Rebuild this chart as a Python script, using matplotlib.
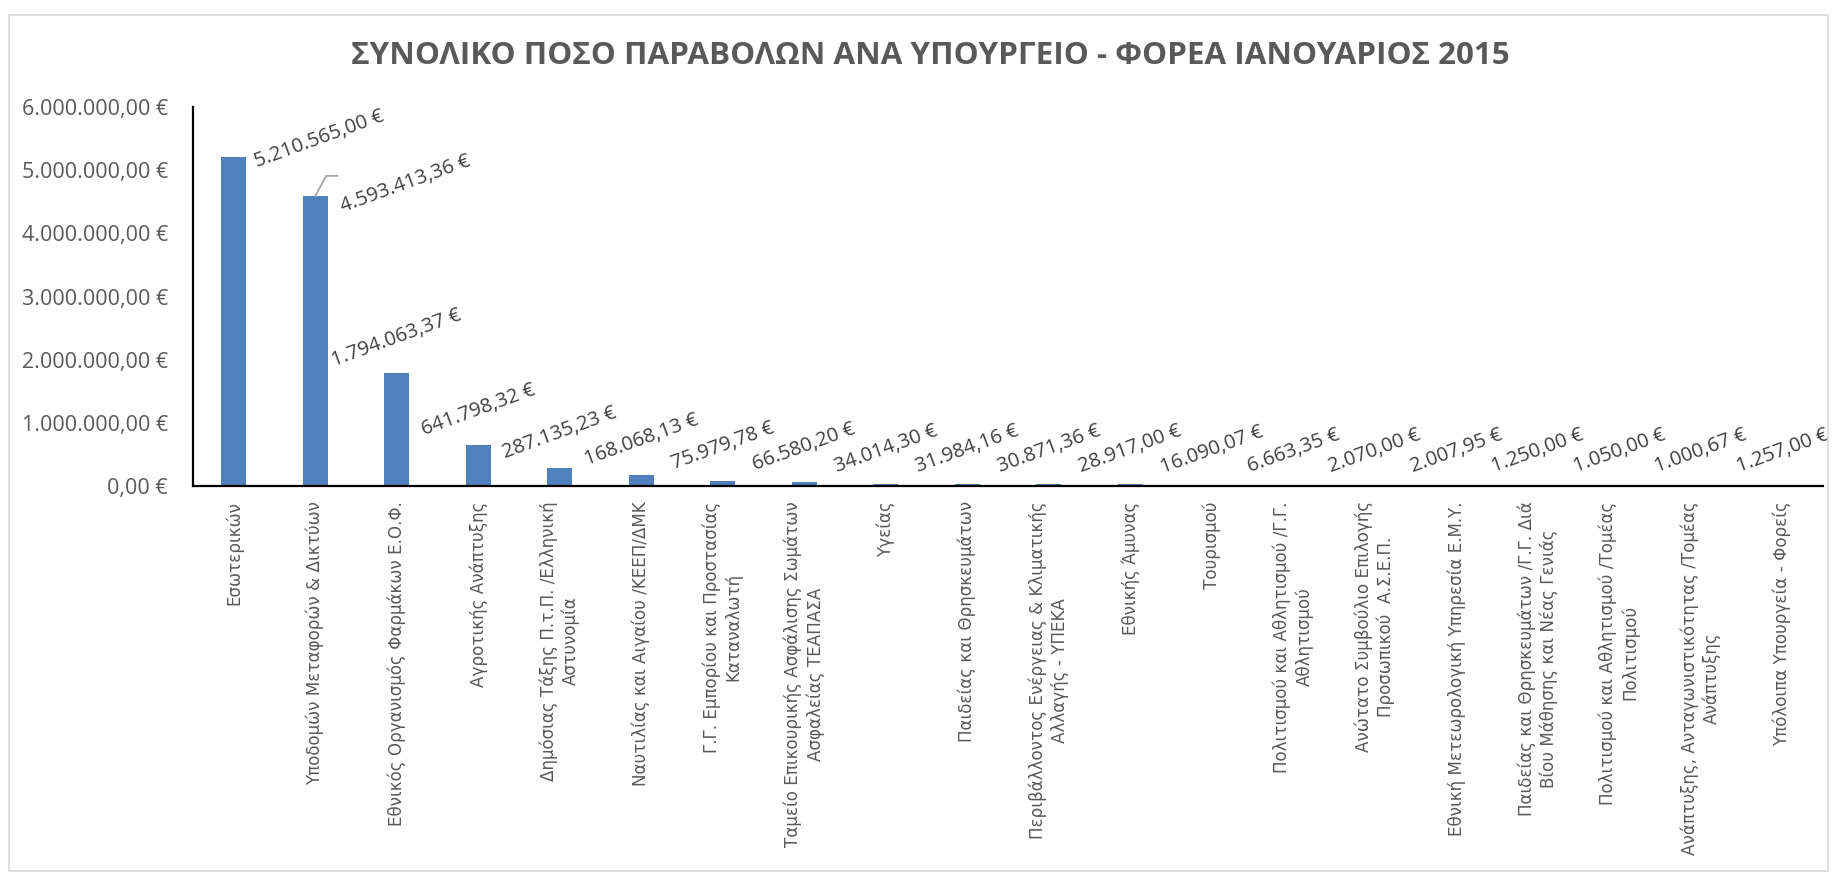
import numpy as np
import matplotlib
matplotlib.use("Agg")
from matplotlib import pyplot as plt
from matplotlib.patches import Rectangle
from matplotlib.ticker import FuncFormatter


# data
categories = [
    "Εσωτερικών",
    "Υποδομών Μεταφορών & Δικτύων",
    "Εθνικός Οργανισμός Φαρμάκων Ε.Ο.Φ.",
    "Αγροτικής Ανάπτυξης",
    "Δημόσιας Τάξης Π.τ.Π. /Ελληνική\nΑστυνομία",
    "Ναυτιλίας και Αιγαίου /ΚΕΕΠ/ΔΜΚ",
    "Γ.Γ. Εμπορίου και Προστασίας\nΚαταναλωτή",
    "Ταμείο Επικουρικής Ασφάλισης Σωμάτων\nΑσφαλείας ΤΕΑΠΑΣΑ",
    "Υγείας",
    "Παιδείας και Θρησκευμάτων",
    "Περιβάλλοντος Ενέργειας & Κλιματικής\nΑλλαγής - ΥΠΕΚΑ",
    "Εθνικής Άμυνας",
    "Τουρισμού",
    "Πολιτισμού και Αθλητισμού /Γ.Γ.\nΑθλητισμού",
    "Ανώτατο Συμβούλιο Επιλογής\nΠροσωπικού  Α.Σ.Ε.Π.",
    "Εθνική Μετεωρολογική Υπηρεσία Ε.Μ.Υ.",
    "Παιδείας και Θρησκευμάτων /Γ.Γ. Διά\nΒίου Μάθησης και Νέας Γενιάς",
    "Πολιτισμού και Αθλητισμού /Τομέας\nΠολιτισμού",
    "Ανάπτυξης, Ανταγωνιστικότητας /Τομέας\nΑνάπτυξης",
    "Υπόλοιπα Υπουργεία - Φορείς",
]
amounts = [
    5210565.00, 4593413.36, 1794063.37, 641798.32, 287135.23,
    168068.13, 75979.78, 66580.20, 34014.30, 31984.16,
    30871.36, 28917.00, 16090.07, 6663.35, 2070.00,
    2007.95, 1250.00, 1050.00, 1000.67, 1257.00,
]
y_ticks = [0, 1000000, 2000000, 3000000, 4000000, 5000000, 6000000]

title = "ΣΥΝΟΛΙΚΟ ΠΟΣΟ ΠΑΡΑΒΟΛΩΝ ΑΝΑ ΥΠΟΥΡΓΕΙΟ - ΦΟΡΕΑ ΙΑΝΟΥΑΡΙΟΣ 2015"

# labels that were dragged aside in the original (pixel offsets)
moved_labels = {0: (86, 18), 1: (90, 12)}


def euro(x, pos=None):
    # greek style: 1.234.567,89 €
    s = "{:,.2f}".format(x)
    s = s.replace(",", "X").replace(".", ",").replace("X", ".")
    return s + " €"


BLUE = "#4f81bd"
GREY = "#595959"

fig = plt.figure(figsize=(18.36, 8.73), dpi=100)
W, H = 1836, 873
ax = fig.add_axes([193 / W, 1 - 486 / H, (1823 - 193) / W, (486 - 107) / H])

x = np.arange(len(categories))
ax.bar(x, amounts, width=0.31, color=BLUE, zorder=2)

ax.set_xlim(-0.5, len(categories) - 0.5)
ax.set_ylim(0, 6000000)
ax.set_yticks(y_ticks)
ax.yaxis.set_major_formatter(FuncFormatter(euro))
ax.tick_params(axis="y", length=0, pad=18, labelsize=15.5, labelcolor=GREY)
for lbl in ax.get_yticklabels():
    lbl.set_fontfamily("Open Sans")

ax.set_xticks(x)
ax.set_xticklabels(categories, rotation=90, ha="center", va="top",
                   multialignment="center", fontsize=12.1, color=GREY,
                   fontfamily="DejaVu Sans", linespacing=1.25)
ax.tick_params(axis="x", length=0, pad=11)

for side in ["top", "right"]:
    ax.spines[side].set_visible(False)
for side in ["left", "bottom"]:
    ax.spines[side].set_linewidth(1.6)
    ax.spines[side].set_color("black")

# value labels
for i, v in enumerate(amounts):
    dx, dy = moved_labels.get(i, (0, 35))
    ax.annotate(euro(v), xy=(i, v), xytext=(dx, dy), textcoords="offset pixels",
                ha="center", va="center", rotation=20, fontsize=14.5,
                fontfamily="Open Sans", color="#404040")

# leader line for the second label
lead_px = 6000000 / (486 - 107)
i = 1
ax.plot([i, i + 11 / 81.5, i + 22 / 81.5],
        [amounts[i], amounts[i] + 20 * lead_px, amounts[i] + 20 * lead_px],
        color="#a6a6a6", lw=1.3, zorder=3, clip_on=False)

fig.text(930 / W, 1 - 56 / H, title, ha="center", va="center",
         fontsize=22.6, fontweight="bold", color=GREY, fontfamily="Open Sans")

# chart area border
fig.patches.append(Rectangle((9 / W, 1 - 871 / H), (1828 - 9) / W, (871 - 15) / H,
                             transform=fig.transFigure, fill=False,
                             edgecolor="#d9d9d9", lw=1.2))

fig.savefig("out.png", dpi=100, facecolor="white")
